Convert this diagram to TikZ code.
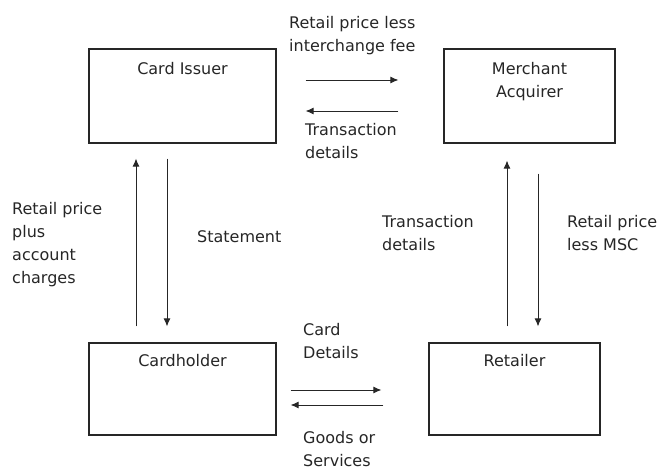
\documentclass[tikz,border=0pt]{standalone}
\usepackage{fontspec}
\setmainfont{DejaVu Sans}
\usetikzlibrary{arrows.meta,positioning}

\begin{document}
\begin{tikzpicture}[x=1pt,y=-1pt]
    \tikzstyle{every node}+=[inner sep=0pt]
    \tikzstyle{party}=[draw=black!85, line width=1.2pt, fill=white]
    \tikzstyle{flow}=[black!85, line width=0.9pt, -{Latex[length=8pt,width=7pt]}]
    \tikzstyle{txt}=[anchor=north west, align=left, text=black!85, font=\fontsize{16}{23}\selectfont]
    \tikzstyle{title}=[anchor=north, align=center, text=black!85, font=\fontsize{16}{23}\selectfont]
    \useasboundingbox (0,0) rectangle (664,470);
    % the four parties
    \node [party, minimum width=187pt, minimum height=94pt,
           label={[title, yshift=-14pt]north:Card Issuer}] (issuer) at (182.5,96) {};
    \node [party, minimum width=171pt, minimum height=94pt,
           label={[title, yshift=-14pt]north:Merchant\\Acquirer}] (acquirer) at (529.5,96) {};
    \node [party, minimum width=187pt, minimum height=92pt,
           label={[title, yshift=-12pt]north:Cardholder}] (holder) at (182.5,389) {};
    \node [party, minimum width=171pt, minimum height=92pt,
           label={[title, yshift=-12pt]north:Retailer}] (retailer) at (514.5,389) {};
    % flows between issuer and acquirer
    \draw [flow] ([shift={(29,-16)}]issuer.east) -- ([shift={(-45,-16)}]acquirer.west);
    \draw [flow] ([shift={(-45,15)}]acquirer.west) -- ([shift={(29,15)}]issuer.east);
    % flows between cardholder and issuer
    \draw [flow] ([shift={(-46.5,-16)}]holder.north) -- ([shift={(-46.5,15)}]issuer.south);
    \draw [flow] ([shift={(-15.5,15)}]issuer.south) -- ([shift={(-15.5,-16)}]holder.north);
    % flows between retailer and acquirer
    \draw [flow] ([shift={(-7.5,-16)}]retailer.north) -- ([shift={(-22.5,17)}]acquirer.south);
    \draw [flow] ([shift={(8.5,30)}]acquirer.south) -- ([shift={(23.5,-16)}]retailer.north);
    % flows between cardholder and retailer
    \draw [flow] ([shift={(14,1)}]holder.east) -- ([shift={(-47,1)}]retailer.west);
    \draw [flow] ([shift={(-45,16)}]retailer.west) -- ([shift={(14,16)}]holder.east);
    % labels
    \node [txt] (fee) at (289,16) {Retail price less\\interchange fee};
    \node [txt] (txtop) at (305,123) {Transaction\\details};
    \node [txt] (charges) at (12,202) {Retail price\\plus\\account\\charges};
    \node [txt] (stmt) at (197,230) {Statement};
    \node [txt] (txright) at (382,215) {Transaction\\details};
    \node [txt] (msc) at (567,215) {Retail price\\less MSC};
    \node [txt] (card) at (303,323) {Card\\Details};
    \node [txt] (goods) at (303,431) {Goods or\\Services};
\end{tikzpicture}
\end{document}
